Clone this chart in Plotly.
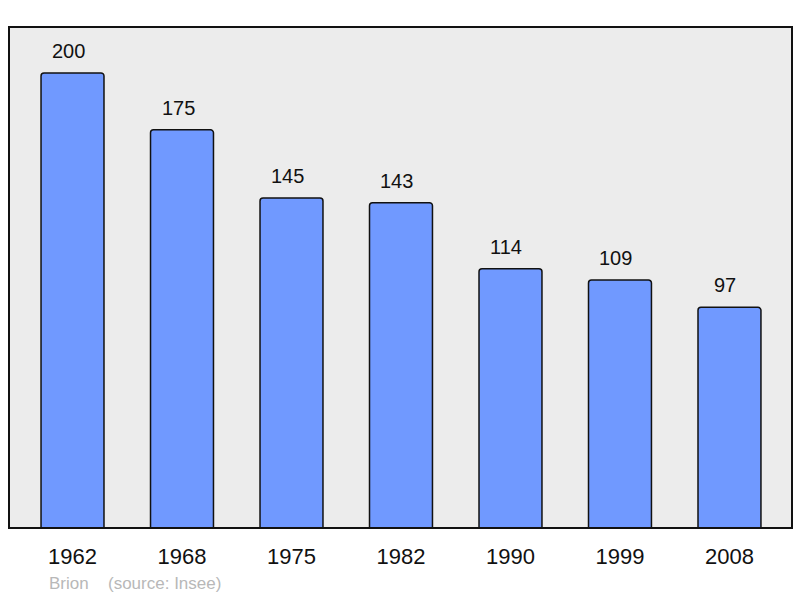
import plotly.graph_objects as go

years = ["1962", "1968", "1975", "1982", "1990", "1999", "2008"]
population = [200, 175, 145, 143, 114, 109, 97]
commune = "Brion"
source = "(source: Insee)"

fig = go.Figure()
fig.add_trace(go.Bar(
    x=list(range(len(years))), y=population,
    width=0.575,
    marker=dict(color="#7099ff", line=dict(color="#111111", width=1.5), cornerradius=3),
    hoverinfo="skip",
))

for i, v in enumerate(population):
    fig.add_annotation(x=i, y=v, text=str(v), showarrow=False,
                       yanchor="middle", yshift=22, xshift=-4,
                       font=dict(size=20, color="#111111", family="Liberation Sans, Arial"))

fig.add_shape(type="rect", xref="paper", yref="paper", x0=0, y0=0, x1=1, y1=1,
              line=dict(color="#111111", width=2), layer="above")

fig.add_annotation(xref="paper", yref="paper", x=(47 - 9) / 783, y=-(583 - 528) / 501,
                   text=commune, showarrow=False, xanchor="left", yanchor="middle",
                   font=dict(size=17, color="#b8b8b8", family="Liberation Sans, Arial"))
fig.add_annotation(xref="paper", yref="paper", x=(106 - 9) / 783, y=-(583 - 528) / 501,
                   text=source, showarrow=False, xanchor="left", yanchor="middle",
                   font=dict(size=17, color="#b8b8b8", family="Liberation Sans, Arial"))

fig.update_layout(
    width=800, height=598,
    margin=dict(l=9, r=8, t=27, b=70),
    paper_bgcolor="white", plot_bgcolor="#ececec",
    showlegend=False,
    xaxis=dict(range=[-0.58, 6.571], tickmode="array", tickvals=list(range(len(years))),
               ticktext=years, showgrid=False, zeroline=False, showline=False,
               ticks="outside", ticklen=9, tickcolor="rgba(0,0,0,0)",
               tickfont=dict(size=22, color="#111111", family="Liberation Sans, Arial")),
    yaxis=dict(range=[0, 220.2], showgrid=False, zeroline=False, showticklabels=False,
               showline=False),
)

fig.write_html("out.html", config={"displayModeBar": False},
               post_script="document.body.style.margin='0';document.body.style.overflow='hidden';")
